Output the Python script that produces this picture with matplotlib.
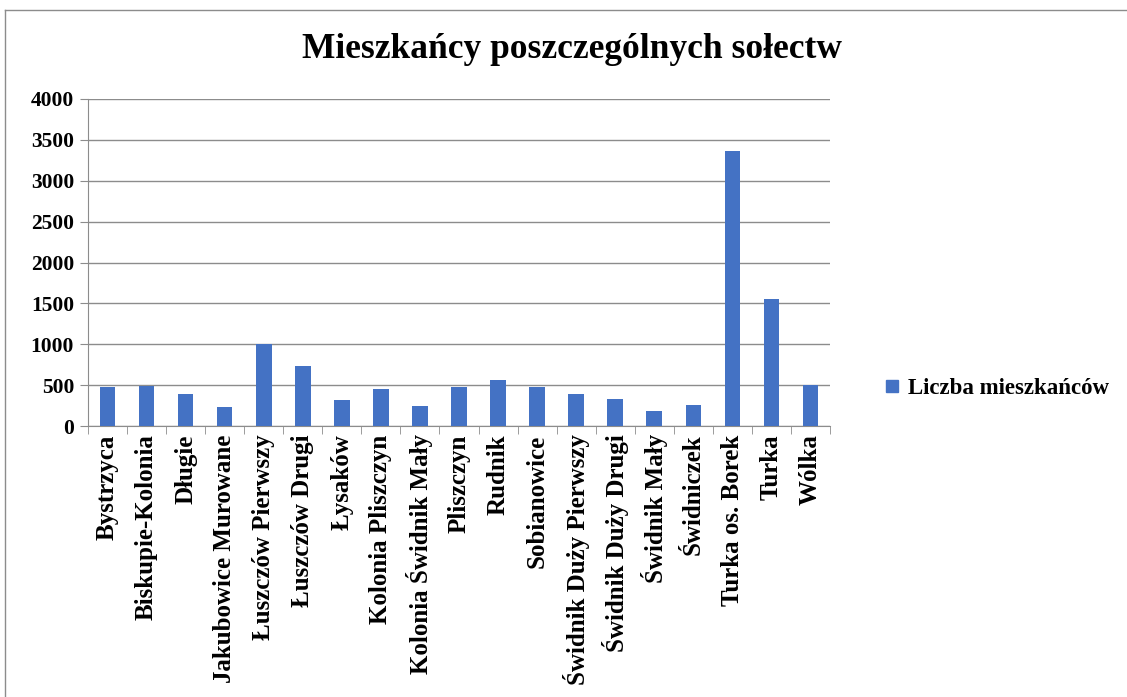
import matplotlib
matplotlib.use("Agg")
import matplotlib.pyplot as plt
from matplotlib.lines import Line2D
import numpy as np

plt.rcParams["font.family"] = ["Liberation Serif", "DejaVu Serif"]
plt.rcParams["font.weight"] = "bold"

categories = [
    "Bystrzyca", "Biskupie-Kolonia", "Długie", "Jakubowice Murowane",
    "Łuszczów Pierwszy", "Łuszczów Drugi", "Łysaków", "Kolonia Pliszczyn",
    "Kolonia Świdnik Mały", "Pliszczyn", "Rudnik", "Sobianowice",
    "Świdnik Duży Pierwszy", "Świdnik Duży Drugi", "Świdnik Mały",
    "Świdniczek", "Turka os. Borek", "Turka", "Wólka",
]
residents = [475, 495, 390, 230, 1000, 730, 317, 450, 243, 475, 565, 475,
             390, 326, 182, 255, 3360, 1555, 500]
y_ticks = [0, 500, 1000, 1500, 2000, 2500, 3000, 3500, 4000]
series_name = "Liczba mieszkańców"
title = "Mieszkańcy poszczególnych sołectw"

BAR_COLOR = "#4472C4"

fig = plt.figure(figsize=(11.27, 6.97), dpi=100)
ax = fig.add_axes([88 / 1127, 1 - 426 / 697, (830 - 88) / 1127, (426 - 99) / 697])

x = np.arange(len(categories))
ax.bar(x, residents, width=0.4, color=BAR_COLOR, zorder=3)

ax.set_xlim(-0.5, len(categories) - 0.5)
ax.set_ylim(0, 4000)
ax.set_yticks(y_ticks)
ax.set_yticklabels([str(v) for v in y_ticks], fontsize=15.5, fontweight="bold")
ax.yaxis.grid(True, color="#8c8c8c", linewidth=1, zorder=0)

ax.set_xticks(x)
ax.set_xticklabels(categories, rotation=90, fontsize=18, fontweight="bold")
ax.tick_params(axis="x", length=0, pad=6)
ax.set_xticks(np.arange(-0.5, len(categories)), minor=True)
ax.tick_params(axis="x", which="minor", length=6, color="#8c8c8c", direction="out")
ax.tick_params(axis="y", length=6, color="#8c8c8c", direction="out", pad=4)

for side in ("top", "right"):
    ax.spines[side].set_visible(False)
for side in ("left", "bottom"):
    ax.spines[side].set_color("#8c8c8c")

fig.text(572 / 1127, 1 - 50 / 697, title, ha="center", va="center",
         fontsize=25.5, fontweight="bold")

handle = Line2D([], [], marker="s", color=BAR_COLOR, linestyle="none", markersize=9)
fig.legend([handle], [series_name], loc="center left",
           bbox_to_anchor=(858 / 1127, 1 - 388 / 697), frameon=False,
           prop={"size": 16.5, "weight": "bold"}, handletextpad=0.1,
           handlelength=1.2)

# chart border
fig.add_artist(Line2D([5 / 1127, 5 / 1127], [0, 1 - 10 / 697], color="#8c8c8c", linewidth=1))
fig.add_artist(Line2D([5 / 1127, 1], [1 - 10 / 697, 1 - 10 / 697], color="#8c8c8c", linewidth=1))

fig.savefig("out.png", dpi=100)
